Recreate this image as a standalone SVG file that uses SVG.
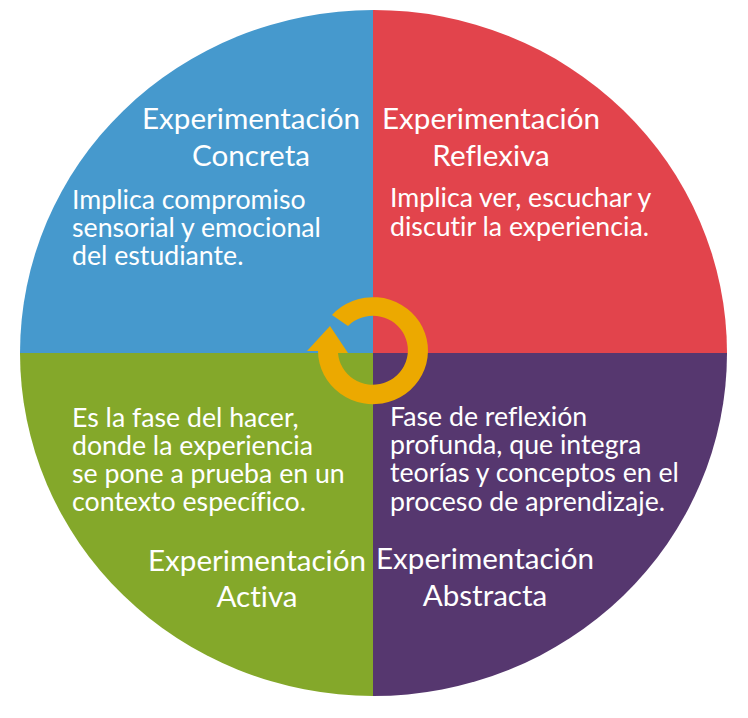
<svg xmlns="http://www.w3.org/2000/svg" width="748" height="718" viewBox="0 0 748 718">
<style>
text{font-family:"Lato","Open Sans",sans-serif;fill:#fff;font-size:26.700px;font-variant-ligatures:none}
.h{font-size:29.600px}
.m{text-anchor:middle}
</style>
<rect width="748" height="718" fill="#fff"/>
<g id="q-concreta">
<path d="M373 353V10A353.500 343 0 0 0 20 353Z" fill="#4699cd"/>
<text class="h m" x="251" y="129">Experimentación</text>
<text class="h m" x="251" y="166">Concreta</text>
<text x="72" y="209">Implica compromiso</text>
<text x="72" y="237">sensorial y emocional</text>
<text x="72" y="265">del estudiante.</text>
</g>
<g id="q-reflexiva">
<path d="M373 353V10A353.500 343 0 0 1 727 353Z" fill="#e2444c"/>
<text class="h m" x="491" y="129">Experimentación</text>
<text class="h m" x="491" y="166">Reflexiva</text>
<text x="390" y="207">Implica ver, escuchar y</text>
<text x="390" y="236">discutir la experiencia.</text>
</g>
<g id="q-abstracta">
<path d="M373 353H727A353.500 343 0 0 1 373 696Z" fill="#56376f"/>
<text x="390" y="426">Fase de reflexión</text>
<text x="390" y="454">profunda, que integra</text>
<text x="390" y="482">teorías y conceptos en el</text>
<text x="390" y="511">proceso de aprendizaje.</text>
<text class="h m" x="485" y="569">Experimentación</text>
<text class="h m" x="485" y="606">Abstracta</text>
</g>
<g id="q-activa">
<path d="M373 353V696A353.500 343 0 0 1 20 353Z" fill="#84a82a"/>
<text x="72" y="427">Es la fase del hacer,</text>
<text x="72" y="455">donde la experiencia</text>
<text x="72" y="483">se pone a prueba en un</text>
<text x="72" y="511">contexto específico.</text>
<text class="h m" x="257" y="571">Experimentación</text>
<text class="h m" x="257" y="607">Activa</text>
</g>
<g id="connectors">
<path d="M332 315A55 53.500 0 1 1 318 351L307 351L330 326L348 353L338 353A35 34.500 0 1 0 348 326Z" fill="#eca900"/>
</g>
</svg>
